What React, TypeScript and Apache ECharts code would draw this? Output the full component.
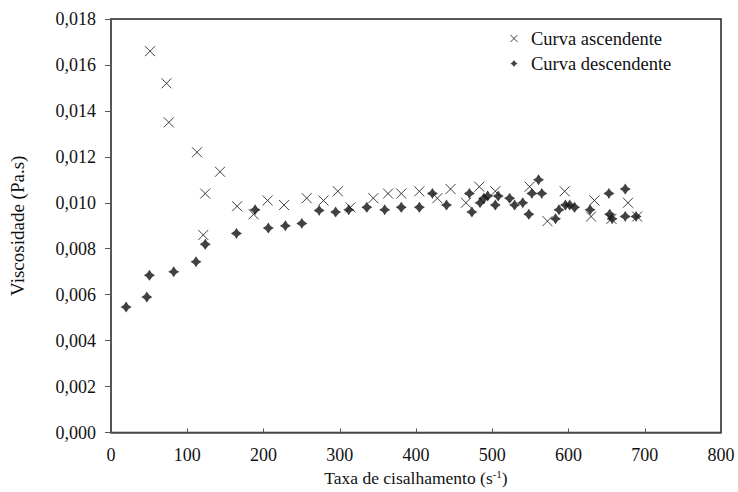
import React, { useEffect, useRef } from "react";
import * as echarts from "echarts";

const ascendingX = [51.2, 72.8, 75.8, 112.8, 121, 123.6, 143, 165.4, 187, 205.4, 227, 256.7, 278.7, 297.5, 314, 344, 363.4, 380.7, 404.4, 428, 445.3, 465.5, 483, 504, 549, 572.4, 595, 629.6, 634, 656.3, 678, 690];
const ascendingY = [0.0166, 0.0152, 0.0135, 0.0122, 0.0086, 0.0104, 0.01135, 0.00985, 0.0095, 0.0101, 0.0099, 0.0102, 0.0101, 0.0105, 0.0098, 0.0102, 0.0104, 0.0104, 0.0105, 0.0102, 0.0106, 0.01, 0.0107, 0.0105, 0.0107, 0.0092, 0.0105, 0.0094, 0.0101, 0.0093, 0.01, 0.0094];

const descendingX = [19.8, 47, 50.4, 82.3, 111.5, 123.6, 164.5, 189, 206.3, 228.7, 250.3, 273, 294.6, 311.8, 335.5, 359, 380.7, 404.4, 421.5, 440, 470, 473.3, 484, 489, 494, 504, 507.8, 522.8, 529.3, 540, 548, 552, 560.7, 565, 583, 587.5, 596, 601.6, 608, 628.3, 653, 654, 657.2, 674.4, 674.4, 688.6];
const descendingY = [0.00546, 0.0059, 0.00685, 0.007, 0.00743, 0.0082, 0.00866, 0.0097, 0.0089, 0.009, 0.0091, 0.00966, 0.0096, 0.0097, 0.0098, 0.0097, 0.0098, 0.0098, 0.0104, 0.0099, 0.0104, 0.0096, 0.01, 0.0102, 0.0103, 0.0099, 0.0103, 0.0102, 0.0099, 0.01, 0.0095, 0.0104, 0.011, 0.0104, 0.0093, 0.0097, 0.0099, 0.0099, 0.0098, 0.0097, 0.0104, 0.0095, 0.0093, 0.0106, 0.0094, 0.0094];

const seriesNames = ["Curva ascendente", "Curva descendente"];
const xTitle = "Taxa de cisalhamento";
const yTitle = "Viscosidade (Pa.s)";

const crossSymbol = "path://M0,0L10,10M10,0L0,10";
const starSymbol = "path://M5,0Q6.5,3.5 10,5Q6.5,6.5 5,10Q3.5,6.5 0,5Q3.5,3.5 5,0Z";

export default function App() {
  const ref = useRef<HTMLDivElement>(null);
  useEffect(() => {
    if (!ref.current) return;
    const chart = echarts.init(ref.current, null, { renderer: "svg" });
    const font = "'Liberation Serif', 'Times New Roman', serif";
    chart.setOption({
      animation: false,
      backgroundColor: "#fff",
      textStyle: { fontFamily: font },
      grid: {
        left: 102,
        right: 17,
        top: 19,
        bottom: 58,
        show: true,
        borderColor: "#222",
        borderWidth: 1.5,
      },
      legend: {
        orient: "vertical",
        left: 505,
        top: 24,
        itemGap: 6,
        itemWidth: 24,
        itemHeight: 7,
        textStyle: { fontFamily: font, fontSize: 18.5, color: "#111" },
        data: [
          { name: seriesNames[0], icon: crossSymbol, itemStyle: { color: "transparent", borderColor: "#111", borderWidth: 1 } },
          { name: seriesNames[1], icon: starSymbol, itemStyle: { color: "#111" } },
        ],
      },
      xAxis: {
        type: "value",
        min: 0,
        max: 800,
        interval: 100,
        name: xTitle + " (s{sup|-1})",
        nameLocation: "middle",
        nameGap: 36,
        nameTextStyle: {
          fontFamily: font,
          fontSize: 17.5,
          color: "#111",
          rich: { sup: { fontSize: 11, verticalAlign: "top", padding: [0, 0, 8, 0], fontFamily: font, color: "#111" } },
        },
        axisLine: { show: true, lineStyle: { color: "#555", width: 1.5 } },
        axisTick: { show: true, inside: true, length: 4, lineStyle: { color: "#555" } },
        axisLabel: { fontFamily: font, fontSize: 18, color: "#111", margin: 13 },
        splitLine: { show: false },
      },
      yAxis: {
        type: "value",
        min: 0,
        max: 0.018,
        interval: 0.002,
        name: yTitle,
        nameLocation: "middle",
        nameGap: 84,
        nameTextStyle: { fontFamily: font, fontSize: 19, color: "#111" },
        axisLine: { show: true, lineStyle: { color: "#555", width: 1.5 } },
        axisTick: { show: true, inside: false, length: 6, lineStyle: { color: "#555" } },
        axisLabel: {
          fontFamily: font,
          fontSize: 18,
          color: "#111",
          margin: 15,
          formatter: (v: number) => v.toFixed(3).replace(".", ","),
        },
        splitLine: { show: false },
      },
      series: [
        {
          name: seriesNames[0],
          type: "scatter",
          symbol: crossSymbol,
          symbolSize: 10,
          itemStyle: { color: "transparent", borderColor: "#111", borderWidth: 1 },
          data: ascendingX.map((x, i) => [x, ascendingY[i]]),
        },
        {
          name: seriesNames[1],
          type: "scatter",
          symbol: starSymbol,
          symbolSize: 11,
          itemStyle: { color: "#111" },
          data: descendingX.map((x, i) => [x, descendingY[i]]),
        },
      ],
    });
    return () => chart.dispose();
  }, []);
  return <div ref={ref} style={{ position: "absolute", left: 0, top: 0, width: 738, height: 492 }} />;
}
